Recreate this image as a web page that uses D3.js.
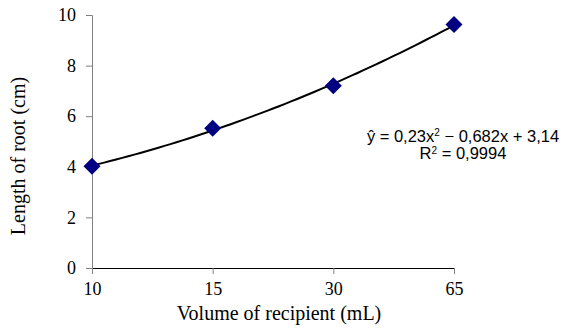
<!DOCTYPE html>
<html>
<head>
<meta charset="utf-8">
<script src="https://d3js.org/d3.v7.min.js"></script>
<style>
  body { margin: 0; background: #fff; }
  .tick text { font-family: "Liberation Serif", "Times New Roman", serif; font-size: 18px; fill: #000; }
  .ttl { font-family: "Liberation Serif", "Times New Roman", serif; font-size: 20px; }
  .eq { font-family: "Liberation Sans", Arial, sans-serif; font-size: 16.5px; }
</style>
</head>
<body>
<div id="chart"></div>
<script>
// data
var volumes = ["10", "15", "30", "65"];
var rootLength = [4.02, 5.52, 7.2, 9.62];
var yTicks = [0, 2, 4, 6, 8, 10];

var width = 568, height = 328;
var margin = { top: 15, left: 92, right: 114, bottom: 60 };

var svg = d3.select("#chart").append("svg")
    .attr("width", width)
    .attr("height", height);

// points sit on the ticks, so use a point scale
var x = d3.scalePoint()
    .domain(volumes)
    .range([margin.left, width - margin.right]);

var y = d3.scaleLinear()
    .domain([0, 10])
    .range([height - margin.bottom, margin.top]);

// y axis (grey)
var yAxis = svg.append("g")
    .attr("transform", "translate(" + margin.left + ",0)")
    .call(d3.axisLeft(y).tickValues(yTicks).tickSize(6).tickPadding(10));
yAxis.select(".domain").attr("stroke", "#808080");
yAxis.selectAll(".tick line").attr("stroke", "#808080");

// x axis (black)
var xAxis = svg.append("g")
    .attr("transform", "translate(0," + y(0) + ")")
    .call(d3.axisBottom(x).tickSize(6).tickSizeOuter(0).tickPadding(8));
xAxis.select(".domain").attr("stroke", "#000");
xAxis.selectAll(".tick line").attr("stroke", "#808080");

// quadratic trendline fitted to the points (x = 1..n)
function fitQuad(ys) {
  var s = [0, 0, 0, 0, 0], t = [0, 0, 0];
  ys.forEach(function(v, i) {
    var xi = i + 1;
    for (var k = 0; k < 5; k++) s[k] += Math.pow(xi, k);
    for (var k = 0; k < 3; k++) t[k] += v * Math.pow(xi, k);
  });
  // solve the 3x3 normal equations
  var A = [[s[0], s[1], s[2], t[0]], [s[1], s[2], s[3], t[1]], [s[2], s[3], s[4], t[2]]];
  for (var i = 0; i < 3; i++) {
    for (var j = i + 1; j < 3; j++) {
      var f = A[j][i] / A[i][i];
      for (var k = i; k < 4; k++) A[j][k] -= f * A[i][k];
    }
  }
  var c = [0, 0, 0];
  for (var i = 2; i >= 0; i--) {
    var sum = A[i][3];
    for (var k = i + 1; k < 3; k++) sum -= A[i][k] * c[k];
    c[i] = sum / A[i][i];
  }
  return c;
}
var coef = fitQuad(rootLength);
var step = x.step();
var curve = d3.range(1, volumes.length + 0.001, 0.05).map(function(xi) {
  return [x(volumes[0]) + (xi - 1) * step, y(coef[0] + coef[1] * xi + coef[2] * xi * xi)];
});
svg.append("path")
    .attr("d", d3.line()(curve))
    .attr("fill", "none")
    .attr("stroke", "#000")
    .attr("stroke-width", 2);

// diamond markers
svg.selectAll(".pt")
    .data(rootLength)
    .enter().append("path")
    .attr("class", "pt")
    .attr("d", "M0,-8.5L8.5,0L0,8.5L-8.5,0Z")
    .attr("transform", function(d, i) { return "translate(" + x(volumes[i]) + "," + y(d) + ")"; })
    .attr("fill", "#000080");

// axis titles
svg.append("text")
    .attr("class", "ttl")
    .attr("x", 279).attr("y", 320)
    .attr("text-anchor", "middle")
    .text("Volume of recipient (mL)");

svg.append("text")
    .attr("class", "ttl")
    .attr("transform", "translate(25,156) rotate(-90)")
    .attr("text-anchor", "middle")
    .text("Length of root (cm)");

// equation
var eq = svg.append("text").attr("class", "eq").attr("text-anchor", "middle");
eq.append("tspan").attr("x", 463).attr("y", 142).text("ŷ = 0,23x");
eq.append("tspan").attr("dy", -6).attr("font-size", "10px").text("2");
eq.append("tspan").attr("dy", 6).text(" − 0,682x + 3,14");

var r2 = svg.append("text").attr("class", "eq").attr("text-anchor", "middle");
r2.append("tspan").attr("x", 463).attr("y", 159).text("R");
r2.append("tspan").attr("dy", -5).attr("font-size", "10px").text("2");
r2.append("tspan").attr("dy", 5).text(" = 0,9994");
</script>
</body>
</html>
